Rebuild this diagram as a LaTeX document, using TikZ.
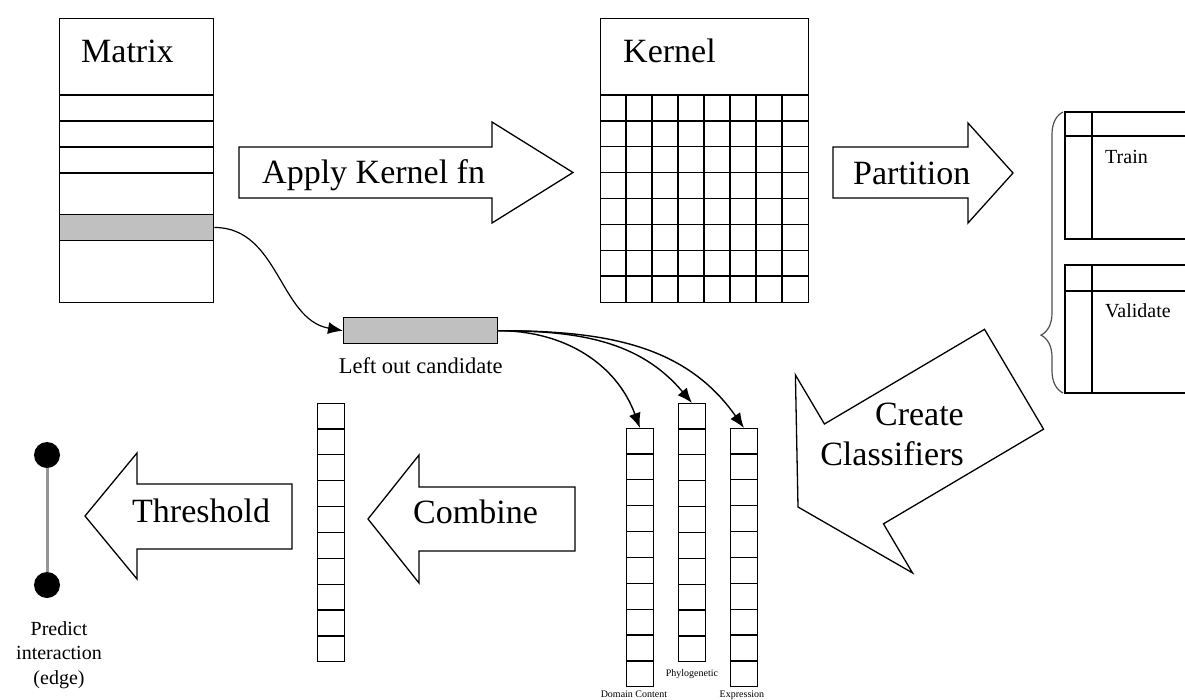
\documentclass[tikz,border=0pt]{standalone}
\usepackage{fontspec}
\setmainfont{Liberation Serif}
\usepackage{tikz}
\usetikzlibrary{arrows.meta,positioning,calc,decorations.pathreplacing}
\definecolor{rowgray}{RGB}{192,192,192}
\definecolor{edgegray}{RGB}{150,150,150}
\definecolor{bracegray}{RGB}{80,80,80}

\begin{document}
\begin{tikzpicture}[x=1pt, y=1pt,
    box/.style={draw, line width=1.4pt, inner sep=0pt, anchor=north west},
    slot/.style={draw, line width=1.4pt, fill=rowgray, inner sep=0pt, minimum width=154pt, minimum height=25.5pt, anchor=north west},
    vec/.style={draw, line width=1.4pt, inner sep=0pt, minimum width=26.5pt, minimum height=257.5pt, anchor=north west},
    blk/.style={draw, line width=1.3pt, line join=miter, fill=white},
    big/.style={font=\fontsize{34}{40}\selectfont, inner sep=0pt},
    mid/.style={font=\fontsize{20}{24.5}\selectfont, inner sep=0pt},
    tiny/.style={font=\fontsize{10}{12}\selectfont, inner sep=0pt},
    dot/.style={circle, fill=black, minimum size=26pt, inner sep=0pt},
    link/.style={line width=1.4pt, -{Latex[length=15pt, width=12pt]}}
]
\useasboundingbox (0,0) rectangle (1185,-699);

% matrix with the held out row
\node[box, minimum width=154pt, minimum height=284pt] (matrix) at (59,-18) {};
\foreach \y in {95,121,147,173,239}
    \draw[line width=1.4pt] (59,-\y) -- (213,-\y);
\node[slot] (heldrow) at (59,-214) {};
\node[big, anchor=base west] (matrixlabel) at (81,-62) {Matrix};

% kernel
\node[box, minimum width=208pt, minimum height=284pt] (kernel) at (600,-18) {};
\draw[line width=1.4pt] (600,-95) -- (808,-95);
\foreach \i in {1,...,7} {
    \draw[line width=1.4pt] (600+26*\i,-95) -- (600+26*\i,-302);
    \draw[line width=1.4pt] (600,-95-25.875*\i) -- (808,-95-25.875*\i);
}
\node[big, anchor=base west] (kernellabel) at (623,-62) {Kernel};

% block arrows
\draw[blk] (239,-147) -- (492,-147) -- (492,-122) -- (573,-172.5) -- (492,-223) -- (492,-198) -- (239,-198) -- cycle;
\node[big, anchor=base west] (applylabel) at (262,-183) {Apply Kernel fn};

\draw[blk] (833,-147) -- (968,-147) -- (968,-123) -- (1013,-173) -- (968,-223) -- (968,-198) -- (833,-198) -- cycle;
\node[big, anchor=base west] (partlabel) at (853,-184) {Partition};

\begin{scope}[shift={(798,-507)}, rotate=30.6]
    \draw[blk] (0,0) -- (65,115) -- (65,58) -- (251,58) -- (251,-58) -- (65,-58) -- (65,-115) -- cycle;
\end{scope}
\node[big, align=right, anchor=east] (createlabel) at (964,-434) {Create\\Classifiers};

\draw[blk] (368,-519) -- (419,-455) -- (419,-487) -- (575,-487) -- (575,-551) -- (419,-551) -- (419,-583) -- cycle;
\node[big, anchor=base west] (combinelabel) at (413,-523) {Combine};

\draw[blk] (85,-516) -- (137,-453) -- (137,-484) -- (292,-484) -- (292,-549) -- (137,-549) -- (137,-579) -- cycle;
\node[big, anchor=base west] (threshlabel) at (132,-522) {Threshold};

% train / validate split
\draw[line width=1.4pt] (1185,-112) -- (1065,-112) -- (1065,-239) -- (1185,-239);
\draw[line width=1.4pt] (1092,-112) -- (1092,-239);
\draw[line width=1.4pt] (1065,-136) -- (1185,-136);
\node[mid, anchor=base west] (trainlabel) at (1105,-163) {Train};

\draw[line width=1.4pt] (1185,-265) -- (1065,-265) -- (1065,-393) -- (1185,-393);
\draw[line width=1.4pt] (1092,-265) -- (1092,-393);
\draw[line width=1.4pt] (1065,-291) -- (1185,-291);
\node[mid, anchor=base west] (validlabel) at (1105,-317) {Validate};

\draw[bracegray, line width=1.2pt, decorate, decoration={brace, amplitude=22pt, aspect=0.206}]
    (1063,-393) -- (1063,-112);

% left out candidate
\node[slot, minimum height=26pt] (leftout) at (343,-317) {};
\node[font=\fontsize{22.5}{26}\selectfont, inner sep=0pt, below=13pt of leftout] (leftoutlabel) {Left out candidate};

% per classifier score vectors
\node[vec] (vdomain) at (626,-428) {};
\node[vec] (vphylo) at (678,-403) {};
\node[vec] (vexpr) at (730,-428) {};
\node[vec] (combined) at (317,-403) {};
\foreach \v in {vdomain,vphylo,vexpr,combined}
    \foreach \k in {1,...,9}
        \draw[line width=1.4pt] ($(\v.north west)!\k/10!(\v.south west)$) -- ($(\v.north east)!\k/10!(\v.south east)$);
\node[tiny, below=4pt of vdomain, xshift=-6pt] (domainlabel) {Domain Content};
\node[tiny, below=7pt of vphylo] (phylolabel) {Phylogenetic};
\node[tiny, below=4pt of vexpr, xshift=-2pt] (exprlabel) {Expression};

% predicted edge
\node[dot] (protA) at (47,-455) {};
\node[dot] (protB) at (47,-585) {};
\draw[edgegray, line width=3pt] (protA) -- (protB);
\node[mid, align=center, anchor=north] (edgelabel) at (59,-621) {Predict\\interaction\\(edge)};

% connectors
\draw[link, line width=1.2pt] (heldrow.east) to[out=0, in=170] (leftout.west);
\draw[link] (leftout.east) to[out=0, in=110] (vdomain.north);
\draw[link] (leftout.east) to[out=0, in=130] (vphylo.north);
\draw[link] (leftout.east) to[out=0, in=125] (vexpr.north);
\end{tikzpicture}
\end{document}
